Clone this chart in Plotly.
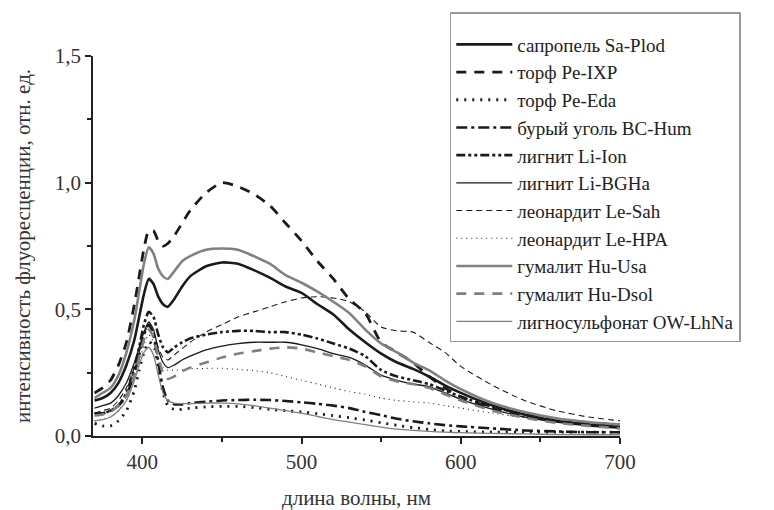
import plotly.graph_objects as go

wl = [370, 375, 380, 385, 390, 395, 398, 401, 404, 407, 410, 413, 416, 420, 425, 430,
      440, 450, 460, 470, 480, 490, 500, 510, 520, 530, 540, 550, 560, 570, 580, 590,
      600, 620, 640, 660, 680, 700]

sa_plod = [0.14, 0.15, 0.17, 0.21, 0.28, 0.38, 0.47, 0.56, 0.62, 0.60, 0.55, 0.52, 0.51, 0.54, 0.59, 0.63,
           0.67, 0.685, 0.68, 0.655, 0.625, 0.59, 0.565, 0.52, 0.48, 0.42, 0.37, 0.325, 0.29, 0.265, 0.235, 0.20,
           0.17, 0.12, 0.085, 0.06, 0.045, 0.035]
pe_ixp = [0.17, 0.19, 0.22, 0.28, 0.37, 0.52, 0.63, 0.74, 0.81, 0.81, 0.77, 0.75, 0.76, 0.79, 0.84, 0.89,
          0.96, 1.0, 0.985, 0.955, 0.91, 0.84, 0.77, 0.69, 0.62, 0.54, 0.485, 0.37, 0.33, 0.29, 0.235, 0.19,
          0.155, 0.11, 0.08, 0.06, 0.05, 0.045]
pe_eda = [0.05, 0.04, 0.04, 0.06, 0.10, 0.18, 0.26, 0.33, 0.37, 0.36, 0.27, 0.17, 0.12, 0.105, 0.105, 0.11,
          0.115, 0.117, 0.117, 0.112, 0.105, 0.10, 0.095, 0.088, 0.08, 0.072, 0.063, 0.052, 0.042, 0.033, 0.026, 0.02,
          0.018, 0.015, 0.015, 0.015, 0.015, 0.015]
bc_hum = [0.09, 0.09, 0.10, 0.12, 0.16, 0.25, 0.32, 0.40, 0.44, 0.40, 0.29, 0.19, 0.14, 0.125, 0.125, 0.13,
          0.135, 0.14, 0.142, 0.143, 0.142, 0.138, 0.133, 0.127, 0.12, 0.11, 0.095, 0.082, 0.068, 0.058, 0.05, 0.043,
          0.038, 0.03, 0.022, 0.018, 0.015, 0.015]
li_ion = [0.09, 0.09, 0.10, 0.12, 0.17, 0.27, 0.35, 0.44, 0.49, 0.47, 0.40, 0.35, 0.33, 0.35, 0.37, 0.385,
          0.40, 0.41, 0.415, 0.415, 0.41, 0.41, 0.40, 0.385, 0.365, 0.345, 0.315, 0.26, 0.235, 0.22, 0.205, 0.18,
          0.155, 0.115, 0.085, 0.06, 0.045, 0.035]
li_bgha = [0.11, 0.12, 0.13, 0.16, 0.21, 0.29, 0.35, 0.41, 0.45, 0.42, 0.34, 0.29, 0.27, 0.28, 0.30, 0.315,
           0.34, 0.355, 0.365, 0.37, 0.37, 0.37, 0.36, 0.345, 0.325, 0.31, 0.28, 0.24, 0.22, 0.205, 0.195, 0.17,
           0.145, 0.105, 0.075, 0.055, 0.04, 0.03]
le_sah = [0.09, 0.10, 0.11, 0.14, 0.19, 0.27, 0.33, 0.40, 0.44, 0.41, 0.35, 0.31, 0.30, 0.32, 0.345, 0.37,
          0.41, 0.44, 0.47, 0.49, 0.51, 0.53, 0.545, 0.55, 0.545, 0.53, 0.49, 0.43, 0.415, 0.41, 0.37, 0.33,
          0.275, 0.20, 0.14, 0.10, 0.075, 0.06]
le_hpa = [0.06, 0.065, 0.075, 0.10, 0.14, 0.22, 0.29, 0.36, 0.40, 0.37, 0.31, 0.27, 0.26, 0.26, 0.262, 0.265,
          0.267, 0.267, 0.263, 0.258, 0.25, 0.235, 0.22, 0.205, 0.19, 0.175, 0.165, 0.15, 0.14, 0.135, 0.13, 0.12,
          0.11, 0.09, 0.072, 0.058, 0.05, 0.045]
hu_usa = [0.15, 0.17, 0.19, 0.24, 0.33, 0.46, 0.57, 0.68, 0.745, 0.72, 0.66, 0.63, 0.62, 0.65, 0.69, 0.71,
          0.735, 0.74, 0.735, 0.71, 0.68, 0.635, 0.605, 0.57, 0.53, 0.485, 0.42, 0.365, 0.33, 0.29, 0.26, 0.22,
          0.185, 0.13, 0.095, 0.07, 0.055, 0.045]
hu_dsol = [0.08, 0.085, 0.095, 0.12, 0.16, 0.24, 0.31, 0.38, 0.42, 0.39, 0.31, 0.25, 0.225, 0.235, 0.255, 0.27,
           0.29, 0.31, 0.325, 0.335, 0.345, 0.35, 0.345, 0.33, 0.315, 0.30, 0.275, 0.235, 0.215, 0.205, 0.19, 0.165,
           0.14, 0.10, 0.072, 0.052, 0.04, 0.03]
ow_lhna = [0.06, 0.065, 0.075, 0.10, 0.14, 0.22, 0.28, 0.33, 0.35, 0.32, 0.24, 0.17, 0.14, 0.13, 0.128, 0.128,
           0.13, 0.13, 0.127, 0.12, 0.11, 0.10, 0.09, 0.077, 0.065, 0.055, 0.045, 0.035, 0.027, 0.022, 0.018, 0.015,
           0.013, 0.01, 0.008, 0.006, 0.005, 0.005]

names = ["сапропель Sa-Plod", "торф Pe-IXP", "торф Pe-Eda", "бурый уголь BC-Hum", "лигнит Li-Ion",
         "лигнит Li-BGHa", "леонардит Le-Sah", "леонардит Le-HPA", "гумалит Hu-Usa", "гумалит Hu-Dsol",
         "лигносульфонат OW-LhNa"]
series = [sa_plod, pe_ixp, pe_eda, bc_hum, li_ion, li_bgha, le_sah, le_hpa, hu_usa, hu_dsol, ow_lhna]

BLACK = "#1a1a1a"
GRAY = "#808080"
styles = [
    dict(color=BLACK, width=2.6, dash="solid"),
    dict(color=BLACK, width=2.8, dash="10px,8px"),
    dict(color=BLACK, width=2.8, dash="2px,6px"),
    dict(color=BLACK, width=2.6, dash="11px,4px,3px,4px"),
    dict(color=BLACK, width=2.6, dash="9px,3px,3px,3px,3px,3px"),
    dict(color=BLACK, width=1.3, dash="solid"),
    dict(color=BLACK, width=1.1, dash="6px,4px"),
    dict(color=BLACK, width=1.1, dash="1px,4px"),
    dict(color=GRAY, width=2.6, dash="solid"),
    dict(color=GRAY, width=2.6, dash="10px,8px"),
    dict(color=GRAY, width=1.3, dash="solid"),
]

fig = go.Figure()
for name, ys, st in zip(names, series, styles):
    fig.add_trace(go.Scatter(x=wl, y=ys, name=name, mode="lines",
                             line=dict(color=st["color"], width=st["width"], dash=st["dash"],
                                       shape="spline", smoothing=0.6)))

FONT = "Liberation Serif"
fig.update_layout(
    width=774, height=510,
    margin=dict(l=93, r=154, t=54, b=74),
    paper_bgcolor="white", plot_bgcolor="white",
    separators=", ",
    font=dict(family=FONT, size=21, color="#333333"),
    showlegend=True,
    legend=dict(x=0.677, y=1.115, xanchor="left", yanchor="top",
                bgcolor="white", bordercolor="#999999", borderwidth=1.5,
                font=dict(family=FONT, size=19, color="#222222"),
                title=dict(text=" ", font=dict(size=9)),
                tracegroupgap=0, itemwidth=56, maxheight=1.0),
)
fig.update_xaxes(range=[369, 700], showline=True, linecolor="#222222", linewidth=1.5,
                 ticks="outside", ticklen=6, tickwidth=1.5, tickcolor="#222222",
                 tickvals=[400, 500, 600, 700], showgrid=False, zeroline=False, automargin=False,
                 minor=dict(tickvals=[450, 550, 650], ticks="outside", ticklen=4, tickwidth=1.5,
                            tickcolor="#222222", showgrid=False),
                 tickfont=dict(family=FONT, size=21),
                 title=dict(text="длина волны, нм", font=dict(family=FONT, size=21), standoff=18))
fig.update_yaxes(range=[0, 1.5], showline=True, linecolor="#222222", linewidth=1.5,
                 ticks="outside", ticklen=6, tickwidth=1.5, tickcolor="#222222",
                 tickvals=[0, 0.5, 1.0, 1.5], tickformat=".1f", showgrid=False, zeroline=False,
                 automargin=False,
                 minor=dict(tickvals=[0.25, 0.75, 1.25], ticks="outside", ticklen=4, tickwidth=1.5,
                            tickcolor="#222222", showgrid=False),
                 tickfont=dict(family=FONT, size=21),
                 title=dict(text="интенсивность флуоресценции, отн. ед.", font=dict(family=FONT, size=21),
                            standoff=18))

fig.write_html("out.html", post_script="document.body.style.margin='0';",
               config={"displayModeBar": False})
